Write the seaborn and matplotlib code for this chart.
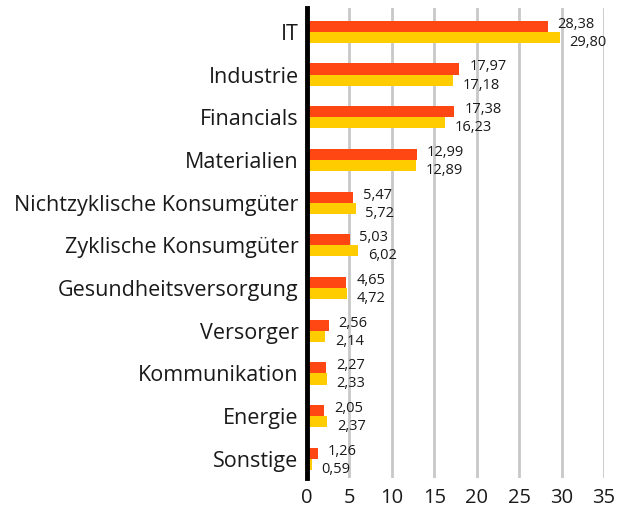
import pandas as pd
import matplotlib
matplotlib.use('Agg')
import matplotlib.pyplot as plt
import seaborn as sns

# Sektorgewichte in %
sectors = ['IT', 'Industrie', 'Financials', 'Materialien', 'Nichtzyklische Konsumgüter',
           'Zyklische Konsumgüter', 'Gesundheitsversorgung', 'Versorger', 'Kommunikation',
           'Energie', 'Sonstige']
fund = [28.38, 17.97, 17.38, 12.99, 5.47, 5.03, 4.65, 2.56, 2.27, 2.05, 1.26]
index = [29.80, 17.18, 16.23, 12.89, 5.72, 6.02, 4.72, 2.14, 2.33, 2.37, 0.59]
series = ['Fonds', 'Index']
colors = ['#FF4713', '#FFCC00']
xticks = [0, 5, 10, 15, 20, 25, 30, 35]

df = pd.DataFrame({
    'sector': sectors * 2,
    'value': fund + index,
    'series': [series[0]] * len(sectors) + [series[1]] * len(sectors),
})

sns.set_style('white')
plt.rcParams['font.family'] = ['Open Sans', 'DejaVu Sans']

fig = plt.figure(figsize=(6.17, 5.08), dpi=100)
ax = fig.add_axes([307 / 617, 1 - 478 / 508, (604 - 307) / 617, 470 / 508])

sns.barplot(data=df, y='sector', x='value', hue='series', order=sectors, hue_order=series,
            palette=colors, width=0.52, gap=0, saturation=1, orient='h', legend=False,
            linewidth=0, ax=ax)

# labels with decimal comma, red slightly up, yellow slightly down
for cont, dy in zip(ax.containers, [1.5, -3.5]):
    anns = ax.bar_label(cont, labels=[f'{v:.2f}'.replace('.', ',') for v in cont.datavalues],
                        padding=7, fontsize=10.5, color='#1a1a1a')
    for a in anns:
        a.xyann = (7, dy)

ax.set_xlim(0, 35)
ax.set_ylim(10.45, -0.56)
ax.set_xticks(xticks)
ax.set_xticklabels([str(t) for t in xticks], fontsize=14.5)
ax.tick_params(axis='y', labelsize=15.5, length=0, pad=6, labelcolor='#1a1a1a')
ax.tick_params(axis='x', length=0, pad=7, labelcolor='#1a1a1a')
ax.set_xlabel('')
ax.set_ylabel('')
ax.grid(axis='x', color='#c8c8c8', linewidth=2)
ax.set_axisbelow(True)
sns.despine(ax=ax, top=True, right=True, bottom=True)
ax.spines['left'].set_color('black')
ax.spines['left'].set_linewidth(3.5)
ax.spines['left'].set_zorder(5)

fig.savefig('out.png', dpi=100)
